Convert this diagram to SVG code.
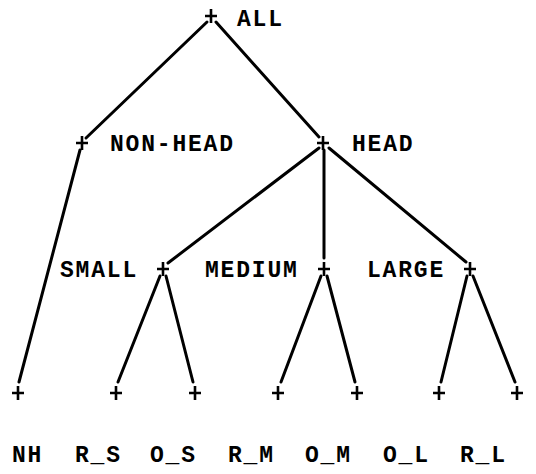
<svg xmlns="http://www.w3.org/2000/svg" width="536" height="474" viewBox="0 0 536 474">
<style>
.t{font-family:"Liberation Mono","Courier New",monospace;font-weight:bold;font-size:23px;letter-spacing:1.8px;fill:#000}
.p{stroke:#000;stroke-width:2.6;fill:none}
.e{stroke:#000;stroke-width:3;fill:none;stroke-linecap:round}
</style>
<defs><path id="plus" class="p" d="M-6 0H6M0 -7V7"/></defs>
<g id="connectors">
<line class="e" x1="207" y1="22" x2="86" y2="138"/>
<line class="e" x1="216" y1="22" x2="319" y2="137"/>
<line class="e" x1="80" y1="150" x2="19" y2="382"/>
<line class="e" x1="319" y1="148" x2="168" y2="263"/>
<line class="e" x1="324" y1="150" x2="324" y2="258"/>
<line class="e" x1="329" y1="148" x2="466" y2="262"/>
<line class="e" x1="160" y1="276" x2="118" y2="382"/>
<line class="e" x1="166" y1="276" x2="193" y2="382"/>
<line class="e" x1="321" y1="276" x2="281" y2="382"/>
<line class="e" x1="327" y1="276" x2="355" y2="382"/>
<line class="e" x1="467" y1="276" x2="441" y2="382"/>
<line class="e" x1="473" y1="276" x2="515" y2="382"/>
</g>
<g id="n-all"><use href="#plus" x="211" y="16"/><text class="t" x="237" y="26">ALL</text></g>
<g id="n-nonhead"><use href="#plus" x="82" y="143"/><text class="t" x="110" y="151">NON-HEAD</text></g>
<g id="n-head"><use href="#plus" x="323" y="143"/><text class="t" x="352" y="151">HEAD</text></g>
<g id="n-small"><use href="#plus" x="163" y="269"/><text class="t" x="60" y="277">SMALL</text></g>
<g id="n-medium"><use href="#plus" x="324" y="269"/><text class="t" x="205" y="277">MEDIUM</text></g>
<g id="n-large"><use href="#plus" x="470" y="269"/><text class="t" x="367" y="277">LARGE</text></g>
<g id="n-nh"><use href="#plus" x="18" y="393"/><text class="t" x="12" y="462">NH</text></g>
<g id="n-rs"><use href="#plus" x="116" y="393"/><text class="t" x="75" y="462">R_S</text></g>
<g id="n-os"><use href="#plus" x="195" y="393"/><text class="t" x="150" y="462">O_S</text></g>
<g id="n-rm"><use href="#plus" x="278" y="393"/><text class="t" x="228" y="462">R_M</text></g>
<g id="n-om"><use href="#plus" x="357" y="393"/><text class="t" x="305" y="462">O_M</text></g>
<g id="n-ol"><use href="#plus" x="439" y="393"/><text class="t" x="383" y="462">O_L</text></g>
<g id="n-rl"><use href="#plus" x="517" y="393"/><text class="t" x="460" y="462">R_L</text></g>
</svg>
